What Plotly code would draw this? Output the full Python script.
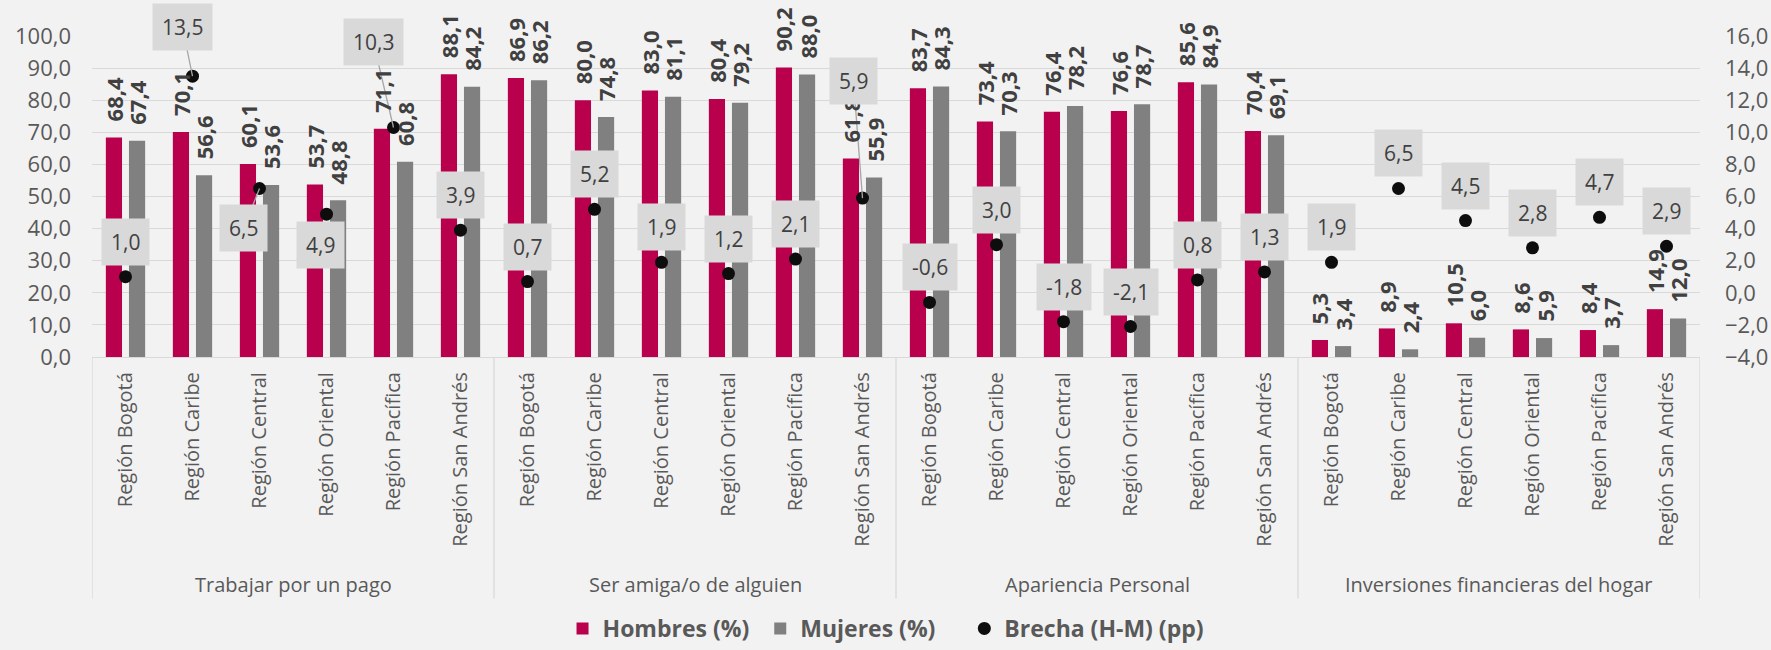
import plotly.graph_objects as go

# ---------------- data ----------------
regions = ["Región Bogotá", "Región Caribe", "Región Central",
           "Región Oriental", "Región Pacífica", "Región San Andrés"]
groups = ["Trabajar por un pago", "Ser amiga/o de alguien",
          "Apariencia Personal", "Inversiones financieras del hogar"]
hombres = [68.4, 70.1, 60.1, 53.7, 71.1, 88.1,
           86.9, 80.0, 83.0, 80.4, 90.2, 61.8,
           83.7, 73.4, 76.4, 76.6, 85.6, 70.4,
           5.3, 8.9, 10.5, 8.6, 8.4, 14.9]
mujeres = [67.4, 56.6, 53.6, 48.8, 60.8, 84.2,
           86.2, 74.8, 81.1, 79.2, 88.0, 55.9,
           84.3, 70.3, 78.2, 78.7, 84.9, 69.1,
           3.4, 2.4, 6.0, 5.9, 3.7, 12.0]
brecha = [1.0, 13.5, 6.5, 4.9, 10.3, 3.9,
          0.7, 5.2, 1.9, 1.2, 2.1, 5.9,
          -0.6, 3.0, -1.8, -2.1, 0.8, 1.3,
          1.9, 6.5, 4.5, 2.8, 4.7, 2.9]
left_ticks = [0, 10, 20, 30, 40, 50, 60, 70, 80, 90, 100]
right_ticks = [-4, -2, 0, 2, 4, 6, 8, 10, 12, 14, 16]

# ---------------- styles ----------------
C_H = "#B8004C"
C_M = "#808080"
C_B = "#0D0D0D"
BG = "#F2F2F2"
GRID = "#D9D9D9"
TXT = "#595959"
LBL = "#404040"
LEADER = "#A6A6A6"
FONT = "Open Sans"
BARGAP = 0.31
BARGROUPGAP = 0.3
NBSP = "\u00a0"

# per-label placement tweaks for gap labels (index: (xshift_px, yshift_px, leader line))
gap_label_offsets = {1: (-10, 49, True), 2: (-16, -40, True), 3: (-6, -31, False),
                     4: (-20, 85, True), 11: (-9, 117, True)}
DEFAULT_GAP_SHIFT = 35


def fmt(v):
    return f"{v:.1f}".replace(".", ",")


n = len(hombres)
xs = list(range(n))
ticktext = [regions[i % len(regions)] for i in xs]

fig = go.Figure()
fig.add_trace(go.Bar(x=xs, y=hombres, name="<b>Hombres (%)</b>" + NBSP,
                     marker_color=C_H, marker_line_width=0))
fig.add_trace(go.Bar(x=xs, y=mujeres, name="<b>Mujeres (%)</b>" + NBSP * 4,
                     marker_color=C_M, marker_line_width=0))
fig.add_trace(go.Scatter(x=xs, y=brecha, name="<b>Brecha (H-M) (pp)</b>", yaxis="y2",
                         mode="markers", marker=dict(color=C_B, size=13)))

annotations = []
shapes = []
off = (1 - BARGAP) / 4
for i in xs:
    for val, dx in ((hombres[i], -off), (mujeres[i], off)):
        annotations.append(dict(x=i + dx, y=val, xref="x", yref="y", text=fmt(val),
                                showarrow=False, textangle=-90, yanchor="bottom",
                                xanchor="center", yshift=14,
                                font=dict(family=FONT, size=22, color=LBL, weight="bold")))
for i in xs:
    dx, dy, leader = gap_label_offsets.get(i, (0, DEFAULT_GAP_SHIFT, False))
    annotations.append(dict(text=fmt(brecha[i]), bgcolor=GRID, borderpad=9,
                            font=dict(family=FONT, size=21, color=LBL), xref="x", yref="y2",
                            x=i, y=brecha[i], xanchor="center", yanchor="middle",
                            showarrow=False, xshift=dx, yshift=dy))
    if leader:
        shapes.append(dict(type="line", xref="x", yref="y2", xsizemode="pixel",
                           ysizemode="pixel", xanchor=i, yanchor=brecha[i],
                           x0=0, y0=0, x1=dx, y1=dy, layer="above",
                           line=dict(color=LEADER, width=1.3)))

for g, name in enumerate(groups):
    annotations.append(dict(x=g * len(regions) + (len(regions) - 1) / 2, y=-0.71,
                            xref="x", yref="paper", text=name, showarrow=False,
                            yanchor="middle", font=dict(family=FONT, size=20, color=TXT)))

for g in range(len(groups) + 1):
    xb = g * len(regions) - 0.5
    shapes.append(dict(type="line", xref="x", yref="paper", x0=xb, x1=xb, y0=0, y1=-0.752,
                       line=dict(color=GRID, width=1.3)))

fig.update_layout(
    width=1771, height=650,
    paper_bgcolor=BG, plot_bgcolor=BG,
    margin=dict(l=92, r=71, t=36, b=293, autoexpand=False),
    barmode="group", bargap=BARGAP, bargroupgap=BARGROUPGAP,
    separators=",.",
    font=dict(family=FONT, color=TXT),
    showlegend=True,
    legend=dict(orientation="h", x=0.4938, xanchor="center", xref="paper",
                y=0.0, yanchor="bottom", yref="container",
                font=dict(family=FONT, size=23, color=TXT), bgcolor="rgba(0,0,0,0)",
                itemwidth=30, traceorder="normal"),
    xaxis=dict(range=[-0.5, n - 0.5], tickmode="array", tickvals=xs, ticktext=ticktext,
               tickangle=-90, tickfont=dict(family=FONT, size=20, color=TXT),
               showgrid=False, showline=True, linecolor=GRID, linewidth=1.3,
               ticks="", zeroline=False, ticklabelstandoff=6),
    yaxis=dict(range=[0, 100], tickmode="array", tickvals=left_ticks, tickformat=".1f",
               tickfont=dict(family=FONT, size=22, color=TXT), showgrid=True,
               gridcolor=GRID, gridwidth=1.3, zeroline=False, showline=False,
               ticklabelstandoff=20),
    yaxis2=dict(range=[-4, 16], tickmode="array", tickvals=right_ticks, tickformat=".1f",
                overlaying="y", side="right", showgrid=False, zeroline=False,
                tickfont=dict(family=FONT, size=22, color=TXT), ticklabelstandoff=24),
    annotations=annotations,
    shapes=shapes,
)

fig.write_html(
    "out.html",
    config={"displayModeBar": False},
    post_script="document.body.style.margin='0';document.body.style.overflow='hidden';",
)
